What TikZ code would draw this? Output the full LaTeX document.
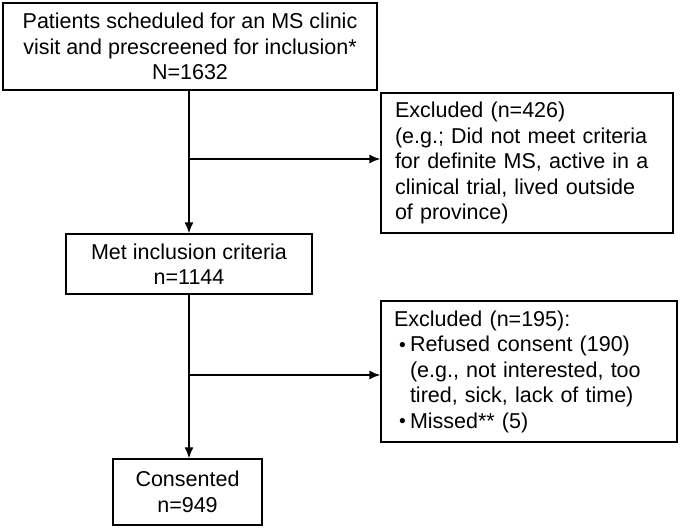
\documentclass[tikz,border=0pt]{standalone}
\usepackage{fontspec}
\setmainfont{Liberation Sans}
\usetikzlibrary{arrows.meta}
\begin{document}
\begin{tikzpicture}[x=1pt,y=-1pt,
  box/.style={draw=black, line width=1.4pt, inner sep=0pt, font=\fontsize{21.5}{25.5}\selectfont},
  cbox/.style={box, align=center},
  lbox/.style={box, align=left},
  conn/.style={line width=1.4pt, -{Latex[length=11pt,width=9pt]}},
  plain/.style={line width=1.4pt}]
\useasboundingbox (0,0) rectangle (680,528);
\node[cbox, minimum width=374pt, minimum height=87pt] (b1) at (190,46.5)
  {Patients scheduled for an MS clinic\\visit and prescreened for inclusion*\\N=1632};
\node[cbox, minimum width=246pt, minimum height=60pt] (b2) at (189,264)
  {Met inclusion criteria\\n=1144};
\node[cbox, minimum width=149pt, minimum height=66pt] (b4) at (187.5,492)
  {Consented\\n=949};
\node[lbox, minimum width=292pt, minimum height=140pt, text width=264pt] (b3) at (527,163)
  {Excluded (n=426)\\(e.g.; Did not meet criteria\\for definite MS, active in a\\clinical trial, lived outside\\of province)};
\node[lbox, minimum width=296pt, minimum height=141pt, text width=270pt] (b5) at (529,371.5)
  {Excluded (n=195):\\
   \makebox[16pt][r]{\raisebox{0.5pt}{\scalebox{0.9}{\textbullet}}\hspace{4pt}}Refused consent (190)\\
   \hspace*{16pt}(e.g., not interested, too\\
   \hspace*{16pt}tired, sick, lack of time)\\
   \makebox[16pt][r]{\raisebox{0.5pt}{\scalebox{0.9}{\textbullet}}\hspace{4pt}}Missed** (5)};
\coordinate (j1) at (189,159);
\coordinate (j2) at (189,375);
\draw[conn] (b1.south -| j1) -- (b2.north -| j1);
\draw[conn] (j1) -- (j1 -| b3.west);
\draw[conn] (b2.south -| j2) -- (b4.north -| j2);
\draw[conn] (j2) -- (j2 -| b5.west);
\end{tikzpicture}
\end{document}
